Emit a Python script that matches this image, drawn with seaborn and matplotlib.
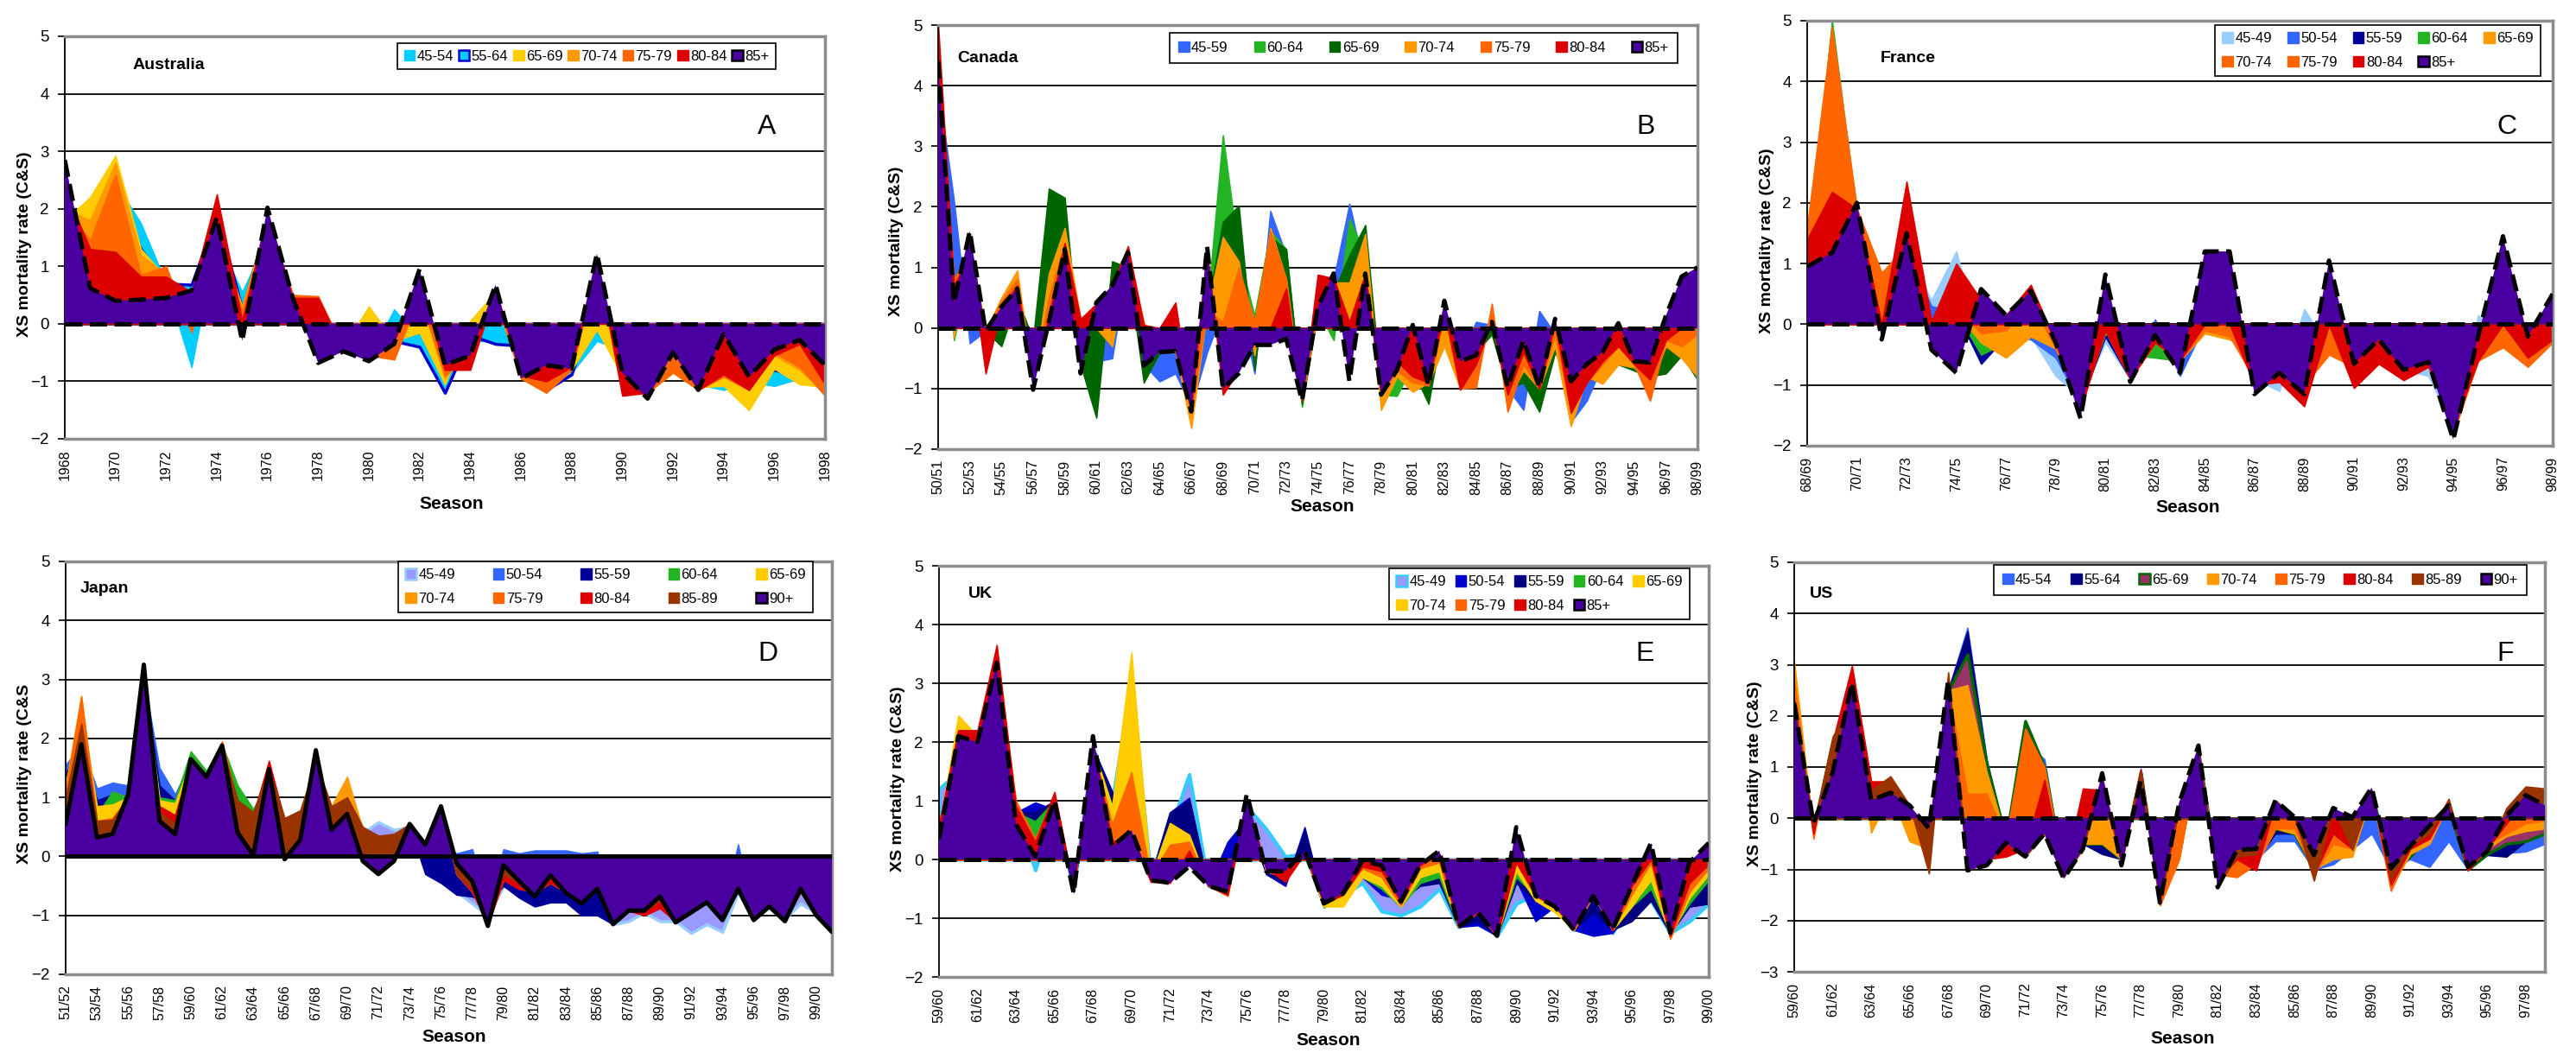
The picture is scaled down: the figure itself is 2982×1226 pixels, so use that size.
import matplotlib
matplotlib.use("Agg")
import matplotlib.pyplot as plt
from matplotlib.patches import Patch
import seaborn as sns

sns.set_theme(style="white")
plt.rcParams["font.family"] = ["Liberation Sans", "DejaVu Sans"]
plt.rcParams["text.color"] = "black"
plt.rcParams["axes.labelcolor"] = "black"
plt.rcParams["xtick.color"] = "black"
plt.rcParams["ytick.color"] = "black"

W, H = 2982, 1226


def season_labels(start, count):
    out = []
    for k in range(count):
        out.append("%02d/%02d" % ((start + k) % 100, (start + k + 1) % 100))
    return out


# ---------------- data ----------------
aus_seasons = [str(y) for y in range(1968, 1999)]
can_seasons = season_labels(50, 49)
fra_seasons = season_labels(68, 31)
jpn_seasons = season_labels(51, 50)
uk_seasons = season_labels(59, 41)
us_seasons = season_labels(59, 40)

# Australia
aus_45 = [1.5, 1.9, 2.45, 1.75, 0.7, -0.75, 1.5, 0.55, 1.5, 0.3,
          -0.5, -0.4, -0.6, 0.25, -0.3, -1.0, -0.3, -0.3, -0.38, -1.1,
          -0.85, -0.3, -0.45, -1.1, -0.6, -1.05, -1.15, -1.0, -1.08, -0.95,
          -0.95]
aus_55 = [1.6, 2.15, 2.2, 1.3, 0.7, 0.68, 1.9, 0.25, 1.8, 0.4,
          -0.5, -0.45, -0.6, -0.3, -0.4, -1.2, -0.2, -0.35, -0.38, -1.15,
          -0.88, 0.5, -0.6, -1.1, -0.6, -1.1, -0.9, -1.0, -0.8, -0.9,
          -0.9]
aus_65 = [1.8, 2.2, 2.92, 1.3, 0.8, 0.0, 1.5, 0.3, 1.8, 0.4,
          0.3, -0.4, 0.3, -0.3, -0.15, -1.05, 0.05, 0.55, -0.9, -1.1,
          -0.8, -0.1, -0.9, -1.2, -0.7, -1.1, -1.08, -1.5, -0.78, -1.05,
          -1.1]
aus_70 = [2.0, 1.8, 2.8, 1.2, 0.85, 0.0, 1.6, 0.3, 1.8, 0.5,
          0.45, -0.45, -0.5, -0.5, 0.5, -0.95, -0.4, 0.4, -0.9, -1.1,
          -0.8, 0.9, -1.0, -1.2, -0.8, -1.1, -0.9, -1.1, -0.55, -0.8,
          -1.2]
aus_75 = [2.0, 1.45, 2.6, 0.85, 1.0, -0.15, 1.6, 0.2, 1.8, 0.5,
          0.48, -0.45, -0.55, -0.62, 0.5, -0.9, -0.5, 0.5, -0.95, -1.2,
          -0.8, 1.0, -1.1, -1.2, -0.85, -1.15, -0.92, -1.15, -0.5, -0.75,
          -1.25]
aus_80 = [2.35, 1.3, 1.25, 0.82, 0.82, 0.55, 2.25, 0.05, 1.9, 0.45,
          0.45, -0.45, -0.6, -0.3, 0.8, -0.8, -0.8, 0.6, -0.9, -1.0,
          -0.75, 1.1, -1.25, -1.2, -0.45, -1.15, -0.88, -1.15, -0.55, -0.35,
          -1.05]
aus_85 = [2.85, 0.62, 0.4, 0.42, 0.45, 0.58, 1.85, -0.3, 2.02, 0.45,
          -0.68, -0.48, -0.65, -0.35, 0.95, -0.72, -0.55, 0.68, -0.95, -0.72,
          -0.78, 1.22, -0.85, -1.3, -0.5, -1.15, -0.18, -0.92, -0.45, -0.28,
          -0.72]

# Canada
can_45 = [4.0, 2.1, -0.25, -0.05, 0.3, 0.6, -0.9, 0.1, 1.2, -0.7,
          -0.55, -0.5, 1.1, -0.6, -0.88, -0.75, -1.3, -0.4, 0.3, 0.5,
          -0.75, 1.93, 1.2, -1.1, 0.3, 0.8, 2.05, 0.9, -1.0, -0.9,
          0.08, -0.9, 0.3, -0.5, 0.1, 0.05, -1.0, -1.35, 0.28, -0.1,
          -1.55, -1.2, -0.6, -0.2, -0.7, -0.8, -0.6, -0.3, -0.5]
can_60 = [3.5, -0.2, 1.0, -0.05, 0.3, 0.5, -0.8, 0.1, 1.2, 0.15,
          0.1, -0.3, 1.1, -0.5, -0.4, -0.4, -1.3, 0.3, 3.18, 1.2,
          0.2, 1.6, 1.3, -1.3, 0.3, -0.2, 1.8, 1.2, -1.1, -1.12,
          -0.6, -0.9, 0.2, -0.5, -0.4, -0.1, -1.0, -0.9, -1.0, -0.3,
          -1.0, -0.8, -0.6, -0.6, -0.7, -0.8, -0.7, -0.2, -0.85]
can_65 = [3.5, 0.3, 1.0, -0.05, -0.3, 0.5, -0.2, 2.3, 2.15, -0.6,
          -1.48, 1.1, 1.0, -0.9, -0.4, -0.4, -1.2, 0.3, 1.75, 2.02,
          -0.7, 1.5, 1.3, -1.25, 0.3, 0.6, 1.2, 1.7, -1.0, -0.7,
          -0.7, -1.25, 0.2, -0.5, -0.4, -0.1, -1.0, -0.9, -1.38, -0.4,
          -0.9, -0.8, -0.6, -0.6, -0.7, -0.8, -0.75, -0.45, -0.85]
can_70 = [4.0, -0.15, 1.4, -0.05, 0.5, 0.95, -0.9, 0.9, 1.65, 0.15,
          0.0, -0.3, 1.2, 0.1, -0.4, -0.38, -1.65, 0.3, 1.5, 1.1,
          -0.45, 1.65, 0.8, -1.2, 0.3, 0.75, 0.75, 1.55, -1.35, -0.8,
          -1.05, -0.9, -0.3, -1.0, -0.4, 0.2, -1.2, -0.7, -1.0, -0.3,
          -1.62, -0.8, -0.92, -0.6, -0.65, -0.95, -0.3, -0.5, -0.8]
can_75 = [4.5, 0.8, 1.3, -0.05, 0.45, 0.8, -0.9, 0.5, 1.4, 0.1,
          0.0, 0.6, 1.2, 0.05, -0.4, -0.38, -1.4, 0.3, 0.1, 1.0,
          0.1, 1.6, 0.8, -1.2, 0.3, 0.6, -0.2, 0.9, -1.1, -0.7,
          -0.9, -0.95, 0.2, -1.0, -0.98, 0.4, -1.38, -0.6, -1.0, -0.1,
          -1.4, -0.9, -0.6, -0.3, -0.6, -1.2, -0.2, -0.3, -0.1]
can_80 = [5.0, 0.7, 1.2, -0.75, 0.35, 0.7, -0.9, 0.2, 1.4, 0.15,
          0.4, 0.7, 1.35, 0.05, 0.0, 0.42, -1.3, 1.3, -1.1, -0.7,
          0.0, 0.0, 0.65, -1.2, 0.88, 0.82, 0.1, 0.9, -1.1, -0.55,
          -0.8, -0.9, 0.3, -1.02, -0.6, 0.1, -1.1, -0.4, -1.0, 0.1,
          -1.4, -0.9, -0.55, -0.3, -0.6, -0.85, -0.2, 0.0, 0.0]
can_85 = [4.4, 0.42, 1.6, -0.05, 0.35, 0.65, -1.02, 0.1, 1.3, -0.75,
          0.42, 0.7, 1.25, -0.62, -0.4, -0.38, -1.38, 1.35, -1.0, -0.75,
          -0.28, -0.28, -0.18, -1.2, 0.35, 0.9, -0.88, 0.9, -1.1, -0.7,
          0.05, -0.95, 0.45, -0.55, -0.45, 0.1, -0.98, -0.2, -0.98, 0.15,
          -0.88, -0.6, -0.4, 0.08, -0.55, -0.57, 0.2, 0.85, 1.0]

# France
fra_45 = [0.8, 4.5, 1.8, 0.2, 1.2, 0.4, 1.2, -0.3, -0.2, -0.2,
          -0.85, -1.2, -0.3, -0.9, -0.3, -0.6, 0.3, 0.1, -0.9, -1.1,
          0.25, -0.4, -0.6, -0.4, -0.75, -0.85, -1.7, 0.15, -0.3, -0.4,
          -0.3]
fra_50 = [0.9, 4.5, 1.8, 0.3, 1.2, 0.3, 0.2, -0.3, -0.2, -0.25,
          -0.55, -1.3, -0.2, -0.9, 0.08, -0.85, 0.0, 0.0, -0.9, -0.9,
          -1.0, -0.3, -0.6, -0.4, -0.7, -0.6, -1.7, -0.3, -0.3, -0.4,
          -0.3]
fra_55 = [0.9, 4.5, 1.8, 0.3, 1.2, -0.2, 0.2, -0.65, -0.2, -0.1,
          -0.4, -1.3, -0.2, -0.9, -0.3, -0.6, 0.0, 0.0, -0.9, -0.9,
          -1.0, -0.3, -0.6, -0.4, -0.7, -0.6, -1.7, -0.3, -0.3, -0.4,
          -0.3]
fra_60 = [1.0, 5.0, 1.8, 0.5, 1.2, -0.2, 0.2, -0.5, -0.3, -0.1,
          -0.4, -1.3, -0.15, -0.5, -0.55, -0.6, 0.0, 0.0, -0.9, -0.9,
          -1.0, -0.3, -0.6, -0.4, -0.7, -0.6, -1.7, -0.3, -0.3, -0.4,
          -0.3]
fra_65 = [1.4, 4.7, 1.8, 0.7, 1.2, -0.2, 0.2, -0.3, -0.55, -0.2,
          -0.4, -1.3, -0.1, -0.9, -0.3, -0.6, -0.15, -0.25, -0.45, -0.9,
          -1.0, -0.3, -0.7, -0.4, -0.7, -0.6, -1.8, -0.5, -0.3, -0.5,
          -0.3]
fra_70 = [1.6, 4.9, 1.9, 0.8, 1.2, -0.2, 0.3, -0.15, -0.1, 0.4,
          -0.4, -1.3, -0.1, -0.9, -0.3, -0.6, -0.1, -0.2, -0.9, -0.9,
          -1.0, -0.5, -0.7, -0.4, -0.7, -0.6, -1.8, -0.5, -0.3, -0.6,
          -0.3]
fra_75 = [1.5, 4.8, 1.9, 0.85, 1.3, -0.2, 0.3, 0.2, -0.1, 0.4,
          -0.4, -1.3, -0.1, -0.9, -0.3, -0.6, -0.1, -0.15, -0.9, -0.9,
          -1.0, -0.35, -0.7, -0.4, -0.7, -0.6, -1.8, -0.6, -0.38, -0.7,
          -0.3]
fra_80 = [1.4, 2.18, 1.9, 0.0, 2.35, 0.05, 1.0, 0.4, 0.15, 0.65,
          -0.3, -1.4, -0.1, -0.9, -0.3, -0.6, 0.0, 0.0, -1.0, -0.95,
          -1.35, 0.0, -1.05, -0.65, -0.92, -0.7, -1.7, -0.6, 0.0, -0.55,
          -0.25]
fra_85 = [0.95, 1.18, 2.0, -0.25, 1.5, -0.42, -0.8, 0.58, 0.15, 0.55,
          -0.3, -1.55, 0.82, -0.95, -0.18, -0.8, 1.2, 1.2, -1.15, -0.8,
          -1.15, 1.05, -0.65, -0.25, -0.75, -0.62, -1.9, -0.2, 1.45, -0.2,
          0.5]

# Japan
jpn_45 = [1.5, 1.9, 1.0, 1.1, 1.1, 3.0, 1.3, 1.0, 1.6, 1.3,
          1.85, 0.9, 0.7, 1.3, 0.5, 0.6, 1.4, 0.8, 0.9, 0.4,
          0.58, 0.45, 0.5, 0.1, 0.1, -0.6, -0.8, -1.0, -0.5, -0.6,
          -0.8, -0.7, -0.75, -0.9, -0.9, -1.15, -1.1, -0.95, -1.1, -1.1,
          -1.3, -1.15, -1.28, -0.6, -1.05, -0.85, -1.05, -0.8, -0.95, -1.25]
jpn_50 = [1.55, 1.9, 1.15, 1.25, 1.2, 3.0, 1.5, 1.05, 1.6, 1.3,
          1.85, 0.9, 0.7, 1.3, 0.5, 0.6, 1.4, 0.8, 0.9, 0.4,
          0.3, 0.3, 0.5, 0.1, 0.2, 0.05, 0.12, -0.8, 0.12, 0.05,
          0.1, 0.1, 0.1, 0.05, 0.08, -1.0, -0.9, -0.95, -0.85, -1.1,
          -0.9, -0.8, -1.0, 0.2, -1.0, -0.85, -1.05, -0.6, -0.95, -1.25]
jpn_55 = [1.4, 1.9, 0.95, 1.05, 1.0, 3.0, 1.2, 0.95, 1.6, 1.3,
          1.85, 0.9, 0.7, 1.3, 0.5, 0.6, 1.4, 0.8, 0.9, 0.4,
          0.3, 0.3, 0.5, -0.3, -0.45, -0.65, -0.68, -0.8, -0.5, -0.7,
          -0.85, -0.78, -0.78, -1.0, -1.0, -1.15, -0.92, -0.95, -0.85, -1.1,
          -0.9, -0.8, -1.0, -0.6, -1.0, -0.85, -1.05, -0.6, -0.95, -1.25]
jpn_60 = [1.3, 2.0, 0.7, 1.1, 1.0, 3.0, 1.0, 0.95, 1.78, 1.45,
          1.9, 1.2, 0.8, 1.3, 0.5, 0.6, 1.4, 0.8, 0.9, 0.4,
          0.3, 0.3, 0.5, 0.2, 0.8, -0.3, -0.6, -1.1, -0.4, -0.5,
          -0.6, -0.45, -0.6, -0.7, -0.55, -1.1, -0.9, -0.95, -0.75, -1.1,
          -0.9, -0.78, -1.0, -0.55, -1.0, -0.85, -1.05, -0.6, -0.95, -1.25]
jpn_65 = [1.2, 2.5, 0.85, 0.88, 1.0, 3.0, 0.95, 0.9, 1.6, 1.3,
          1.85, 0.9, 0.7, 1.4, 0.6, 0.7, 1.4, 0.8, 1.0, 0.4,
          0.3, 0.3, 0.5, 0.2, 0.8, -0.3, -0.6, -1.1, -0.4, -0.5,
          -0.6, -0.45, -0.6, -0.7, -0.55, -1.1, -0.9, -0.95, -0.75, -1.1,
          -0.9, -0.78, -1.0, -0.55, -1.0, -0.85, -1.05, -0.6, -0.95, -1.25]
jpn_70 = [1.2, 2.72, 0.6, 0.65, 1.0, 3.0, 0.8, 0.6, 1.6, 1.3,
          1.9, 0.9, 0.7, 1.5, 0.6, 0.75, 1.5, 0.85, 1.35, 0.45,
          0.3, 0.3, 0.5, 0.2, 0.8, -0.3, -0.6, -1.1, -0.4, -0.5,
          -0.6, -0.45, -0.6, -0.7, -0.55, -1.1, -0.9, -0.95, -0.75, -1.1,
          -0.9, -0.78, -1.0, -0.55, -1.0, -0.85, -1.05, -0.6, -0.95, -1.25]
jpn_75 = [1.1, 2.7, 0.6, 0.65, 1.0, 3.0, 0.75, 0.55, 1.6, 1.3,
          1.95, 0.9, 0.7, 1.5, 0.6, 0.75, 1.5, 0.8, 1.0, 0.4,
          0.3, 0.3, 0.5, 0.2, 0.8, -0.3, -0.6, -1.15, -0.4, -0.55,
          -0.6, -0.45, -0.6, -0.7, -0.55, -1.1, -0.92, -0.95, -0.75, -1.1,
          -0.9, -0.78, -1.0, -0.55, -1.0, -0.85, -1.05, -0.6, -0.95, -1.25]
jpn_80 = [0.9, 2.2, 0.55, 0.6, 1.0, 3.0, 0.85, 0.7, 1.6, 1.3,
          1.85, 0.9, 0.7, 1.62, 0.6, 0.75, 1.5, 0.8, 0.9, 0.4,
          0.3, 0.3, 0.5, 0.2, 0.8, -0.3, -0.6, -1.15, -0.4, -0.55,
          -0.6, -0.45, -0.6, -0.7, -0.55, -1.1, -0.92, -1.0, -0.88, -1.1,
          -0.9, -0.78, -1.0, -0.55, -1.0, -0.85, -1.05, -0.6, -1.0, -1.25]
jpn_85 = [1.0, 2.25, 0.6, 0.62, 1.0, 3.0, 0.75, 0.55, 1.6, 1.35,
          1.85, 0.95, 0.75, 1.5, 0.65, 0.78, 1.6, 0.85, 1.0, 0.5,
          0.35, 0.38, 0.55, 0.2, 0.85, -0.3, -0.55, -1.18, -0.3, -0.45,
          -0.68, -0.35, -0.62, -0.75, -0.55, -1.15, -0.92, -0.92, -0.75, -1.1,
          -0.9, -0.78, -1.05, -0.55, -1.05, -0.85, -1.1, -0.55, -1.0, -1.28]
jpn_90 = [0.55, 1.9, 0.32, 0.38, 1.05, 3.25, 0.6, 0.38, 1.65, 1.35,
          1.88, 0.4, 0.02, 1.48, -0.05, 0.28, 1.8, 0.45, 0.72, -0.08,
          -0.3, -0.08, 0.55, 0.2, 0.85, -0.12, -0.42, -1.18, -0.15, -0.42,
          -0.68, -0.32, -0.62, -0.8, -0.55, -1.15, -0.92, -0.92, -0.68, -1.12,
          -0.95, -0.78, -1.08, -0.55, -1.08, -0.85, -1.1, -0.55, -1.0, -1.28]

# UK
uk_45 = [1.2, 1.5, 2.0, 3.3, 0.8, -0.18, 0.9, -0.5, 1.9, 1.0,
         3.0, -0.3, 0.5, 1.45, -0.45, -0.5, 0.9, 0.52, 0.05, 0.1,
         -0.75, -0.6, -0.4, -0.88, -0.95, -0.8, -0.5, -1.15, -1.0, -1.3,
         -0.75, -0.6, -0.8, -1.2, -0.8, -1.25, -0.7, -0.7, -1.25, -1.05,
         -0.75]
uk_50 = [0.5, 2.0, 2.0, 3.3, 0.8, 0.97, 0.85, -0.55, 1.9, 1.15,
         0.5, -0.3, 0.8, 1.05, -0.45, 0.3, 0.7, -0.25, -0.45, 0.55,
         -0.75, -0.6, -0.3, -0.6, -0.68, -0.42, -0.35, -1.15, -1.12, -1.3,
         -0.35, -1.05, -0.8, -1.2, -1.3, -1.25, -0.8, -0.7, -1.25, -0.8,
         -0.75]
uk_55 = [0.5, 2.0, 2.0, 3.3, 0.8, 0.8, 1.0, -0.55, 1.9, 1.15,
         0.5, -0.3, 0.8, 1.0, -0.45, -0.55, 1.0, -0.25, -0.4, 0.5,
         -0.75, -0.6, -0.3, -0.5, -0.7, -0.45, -0.4, -1.15, -1.05, -1.3,
         -0.4, -0.7, -0.8, -1.2, -0.9, -1.2, -1.05, -0.7, -1.25, -0.8,
         -0.75]
uk_60 = [0.5, 2.0, 2.0, 3.3, 0.8, 0.65, 1.0, -0.5, 1.9, 0.9,
         0.5, -0.3, 0.2, 0.3, -0.45, -0.55, 1.0, -0.2, -0.3, 0.1,
         -0.82, -0.6, -0.3, -0.5, -0.8, -0.4, -0.3, -1.15, -0.9, -1.3,
         -0.3, -0.62, -0.8, -1.2, -0.6, -1.2, -0.8, -0.5, -1.25, -0.75,
         -0.35]
uk_65 = [0.5, 2.3, 2.1, 3.3, 0.9, 0.3, 1.0, -0.5, 1.9, 0.7,
         2.5, -0.3, 0.5, 0.35, -0.45, -0.6, 1.0, -0.2, -0.3, 0.1,
         -0.8, -0.8, -0.3, -0.45, -0.8, -0.3, -0.2, -1.15, -0.9, -1.3,
         -0.2, -0.7, -0.9, -1.2, -0.6, -1.2, -0.78, -0.35, -1.3, -0.65,
         -0.25]
uk_70 = [0.5, 2.45, 2.1, 3.3, 0.9, 0.3, 1.0, -0.5, 1.9, 0.9,
         3.52, -0.3, 0.62, 0.42, -0.45, -0.6, 1.0, -0.2, -0.3, 0.1,
         -0.78, -0.75, -0.2, -0.4, -0.8, -0.2, -0.1, -1.15, -0.9, -1.3,
         -0.1, -0.65, -0.85, -1.2, -0.6, -1.2, -0.8, -0.3, -1.3, -0.65,
         -0.25]
uk_75 = [0.5, 2.2, 2.1, 3.4, 1.0, 0.35, 1.1, -0.5, 1.9, 0.6,
         1.48, -0.3, 0.25, 0.3, -0.45, -0.62, 1.0, -0.2, -0.3, 0.1,
         -0.75, -0.6, -0.15, -0.3, -0.78, -0.15, -0.05, -1.15, -0.9, -1.3,
         -0.05, -0.62, -0.8, -1.2, -0.6, -1.2, -0.6, -0.05, -1.35, -0.55,
         -0.15]
uk_80 = [0.6, 2.2, 2.2, 3.65, 0.9, 0.3, 1.15, -0.5, 2.0, 0.3,
         0.4, -0.38, -0.4, 0.15, -0.45, -0.6, 1.0, -0.15, -0.38, 0.1,
         -0.75, -0.6, -0.12, -0.2, -0.72, -0.1, 0.1, -1.15, -0.9, -1.3,
         -0.05, -0.62, -0.8, -1.15, -0.55, -1.2, -0.45, 0.0, -1.3, -0.4,
         -0.08]
uk_85 = [0.35, 2.1, 2.0, 3.35, 0.6, 0.05, 1.0, -0.58, 2.1, 0.22,
         0.5, -0.35, -0.4, -0.12, -0.45, -0.55, 1.12, -0.2, -0.2, 0.15,
         -0.75, -0.58, -0.02, -0.1, -0.72, -0.1, 0.15, -1.15, -0.9, -1.3,
         0.55, -0.62, -0.8, -1.2, -0.62, -1.2, -0.45, 0.28, -1.25, -0.05,
         0.28]

# US
us_45 = [2.0, -0.2, 1.5, 2.5, 0.5, 0.5, 0.2, -0.6, 2.5, 3.72,
         1.15, -0.4, 1.5, 1.15, -1.1, -0.5, -0.6, -0.8, 0.97, -1.6,
         -0.7, 1.3, -1.1, -0.9, -0.8, -0.45, -0.45, -1.0, -0.9, -0.6,
         -0.3, -1.0, -0.8, -0.95, -0.45, -1.0, -0.7, -0.68, -0.65, -0.5]
us_55 = [2.0, -0.2, 1.5, 2.5, 0.5, 0.5, 0.2, -0.6, 2.5, 3.65,
         1.1, -0.4, 1.5, 1.0, -1.1, -0.5, -0.7, -0.8, 0.9, -1.6,
         -0.7, 1.3, -1.1, -0.9, -0.8, -0.3, -0.3, -1.0, -0.7, -0.6,
         0.5, -1.0, -0.75, -0.35, 0.2, -1.0, -0.72, -0.75, -0.45, -0.3]
us_65 = [2.0, -0.2, 1.5, 2.5, 0.5, 0.5, 0.2, -0.6, 2.5, 3.2,
         1.05, -0.4, 1.9, 1.0, -1.1, -0.5, -0.5, -0.8, 0.9, -1.6,
         -0.7, 1.3, -1.1, -1.0, -0.8, -0.2, -0.3, -1.0, -0.7, -0.6,
         0.5, -1.0, -0.75, -0.3, 0.2, -1.0, -0.7, -0.5, -0.45, -0.3]
us_70 = [3.05, -0.3, 1.5, 2.5, -0.28, 0.5, -0.45, -0.6, 2.5, 2.6,
         0.9, -0.4, 1.6, 1.0, -1.1, -0.5, -0.5, -0.8, 0.9, -1.7,
         -0.8, 1.3, -1.1, -1.1, -0.9, -0.2, -0.3, -1.0, -0.8, -0.75,
         0.5, -1.35, -0.7, -0.5, 0.3, -1.0, -0.6, -0.35, -0.25, -0.2]
us_75 = [2.7, -0.4, 1.5, 2.5, 0.6, 0.7, 0.2, -0.6, 2.5, 0.48,
         0.48, -0.4, 1.75, 1.0, -1.1, -0.5, 0.7, -0.8, 0.9, -1.7,
         -0.8, 1.3, -1.1, -1.15, -0.9, -0.2, -0.2, -1.1, -0.5, -0.6,
         0.5, -1.42, -0.6, -0.4, 0.3, -1.0, -0.5, -0.3, -0.1, -0.05]
us_80 = [2.0, -0.3, 1.5, 2.98, 0.72, 0.72, 0.2, -0.75, 2.5, -0.9,
         -0.8, -0.75, -0.6, 0.75, -1.1, 0.58, 0.55, -0.8, 0.95, -1.6,
         0.2, 1.3, -1.2, -0.8, -1.02, 0.3, 0.0, -1.1, -0.3, -0.6,
         0.5, -1.3, -0.6, -0.4, 0.3, -1.02, -0.6, -0.1, 0.3, 0.3]
us_85 = [2.3, -0.15, 1.6, 2.2, 0.55, 0.82, 0.25, -1.08, 2.85, -1.0,
         -0.9, -0.48, -0.75, -0.3, -1.15, -0.6, 0.8, -0.9, 0.9, -1.65,
         0.3, 1.35, -1.3, -0.75, -0.7, 0.35, 0.02, -1.22, 0.2, -0.62,
         0.55, -1.2, -0.55, -0.3, 0.38, -0.95, -0.65, 0.2, 0.62, 0.58]
us_90 = [2.25, -0.1, 0.9, 2.65, 0.35, 0.5, 0.25, -0.2, 2.7, -1.02,
         -0.92, -0.48, -0.75, -0.3, -1.18, -0.6, 0.88, -0.92, 0.72, -1.65,
         0.3, 1.42, -1.35, -0.62, -0.6, 0.35, 0.02, -0.72, 0.2, 0.02,
         0.6, -0.98, -0.55, -0.15, 0.25, -0.95, -0.65, 0.05, 0.45, 0.25]

# ---------------- colours ----------------
PURPLE = "#4A00A0"
CYAN = "#00CCFF"
BLUE_D = "#0000CC"
GOLD = "#FFCC00"
ORANGE = "#FF9900"
DORANGE = "#FF6600"
RED = "#DD0000"
BLUE = "#3366FF"
GREEN = "#22B422"
DGREEN = "#006600"
LBLUE = "#99CCFF"
NAVY = "#000099"
BROWN = "#993300"
LAVENDER = "#9999FF"
MAUVE = "#993366"

# (label, values, fill, edge, edge width)
panels = [
    dict(box=(75, 42, 955, 508), seasons=aus_seasons, ymin=-2, solid=False,
         series=[("45-54", aus_45, CYAN, CYAN, 1.2), ("55-64", aus_55, CYAN, BLUE_D, 2.5),
                 ("65-69", aus_65, GOLD, GOLD, 1.2), ("70-74", aus_70, ORANGE, ORANGE, 1.2),
                 ("75-79", aus_75, DORANGE, DORANGE, 1.2), ("80-84", aus_80, RED, RED, 1.2),
                 ("85+", aus_85, PURPLE, "black", 2.5)],
         ylabel="XS mortality rate (C&S)", ylabel_xy=(29, 283), xlabel_xy=(523, 583),
         title="Australia", title_xy=(154, 75), letter="A", letter_xy=(888, 147),
         legend_box=(460, 50, 898, 81), ncol=7, borderpad=0.45),
    dict(box=(1086, 29, 1965, 520), seasons=can_seasons, ymin=-2, solid=False,
         series=[("45-59", can_45, BLUE, BLUE, 1.2), ("60-64", can_60, GREEN, GREEN, 1.2),
                 ("65-69", can_65, DGREEN, DGREEN, 1.2), ("70-74", can_70, ORANGE, ORANGE, 1.2),
                 ("75-79", can_75, DORANGE, DORANGE, 1.2), ("80-84", can_80, RED, RED, 1.2),
                 ("85+", can_85, PURPLE, "black", 2.5)],
         ylabel="XS mortality (C&S)", ylabel_xy=(1038, 279), xlabel_xy=(1531, 586),
         title="Canada", title_xy=(1108, 68), letter="B", letter_xy=(1905, 147),
         legend_box=(1354, 38, 1942, 77), ncol=7, borderpad=0.6),
    dict(box=(2092, 24, 2955, 516), seasons=fra_seasons, ymin=-2, solid=False,
         series=[("45-49", fra_45, LBLUE, LBLUE, 1.2), ("50-54", fra_50, BLUE, BLUE, 1.2),
                 ("55-59", fra_55, NAVY, NAVY, 1.2), ("60-64", fra_60, GREEN, GREEN, 1.2),
                 ("65-69", fra_65, ORANGE, ORANGE, 1.2), ("70-74", fra_70, DORANGE, DORANGE, 1.2),
                 ("75-79", fra_75, DORANGE, DORANGE, 1.2), ("80-84", fra_80, RED, RED, 1.2),
                 ("85+", fra_85, PURPLE, "black", 2.5)],
         ylabel="XS mortality rate (C&S)", ylabel_xy=(2045, 279), xlabel_xy=(2533, 588),
         title="France", title_xy=(2177, 67), letter="C", letter_xy=(2902, 147),
         legend_box=(2564, 29, 2941, 91), ncol=5, borderpad=0.5),
    dict(box=(76, 650, 963, 1128), seasons=jpn_seasons, ymin=-2, solid=True,
         series=[("45-49", jpn_45, LAVENDER, LBLUE, 2.5), ("50-54", jpn_50, BLUE, BLUE, 1.2),
                 ("55-59", jpn_55, NAVY, NAVY, 1.2), ("60-64", jpn_60, GREEN, GREEN, 1.2),
                 ("65-69", jpn_65, GOLD, GOLD, 1.2), ("70-74", jpn_70, ORANGE, ORANGE, 1.2),
                 ("75-79", jpn_75, DORANGE, DORANGE, 1.2), ("80-84", jpn_80, RED, RED, 1.2),
                 ("85-89", jpn_85, BROWN, BROWN, 1.2), ("90+", jpn_90, PURPLE, "black", 2.5)],
         ylabel="XS mortality rate (C&S", ylabel_xy=(29, 896), xlabel_xy=(526, 1201),
         title="Japan", title_xy=(93, 681), letter="D", letter_xy=(889, 757),
         legend_box=(461, 650, 941, 714), ncol=5, borderpad=0.5),
    dict(box=(1087, 655, 1978, 1131), seasons=uk_seasons, ymin=-2, solid=False,
         series=[("45-49", uk_45, LAVENDER, "#33CCFF", 3.0), ("50-54", uk_50, BLUE_D, BLUE_D, 1.2),
                 ("55-59", uk_55, "#000080", "#000080", 1.2), ("60-64", uk_60, GREEN, GREEN, 1.2),
                 ("65-69", uk_65, GOLD, GOLD, 1.2), ("70-74", uk_70, GOLD, GOLD, 1.2),
                 ("75-79", uk_75, DORANGE, DORANGE, 1.2), ("80-84", uk_80, RED, RED, 1.2),
                 ("85+", uk_85, PURPLE, "black", 2.5)],
         ylabel="XS mortality rate (C&S)", ylabel_xy=(1039, 902), xlabel_xy=(1538, 1205),
         title="UK", title_xy=(1121, 688), letter="E", letter_xy=(1904, 757),
         legend_box=(1608, 658, 1956, 722), ncol=5, borderpad=0.5),
    dict(box=(2077, 651, 2946, 1125), seasons=us_seasons, ymin=-3, solid=False,
         series=[("45-54", us_45, BLUE, BLUE, 1.2), ("55-64", us_55, "#000080", "#000080", 1.2),
                 ("65-69", us_65, MAUVE, DGREEN, 2.5), ("70-74", us_70, ORANGE, ORANGE, 1.2),
                 ("75-79", us_75, DORANGE, DORANGE, 1.2), ("80-84", us_80, RED, RED, 1.2),
                 ("85-89", us_85, BROWN, BROWN, 1.2), ("90+", us_90, PURPLE, "black", 2.5)],
         ylabel="XS mortality rate (C&S)", ylabel_xy=(2032, 896), xlabel_xy=(2527, 1203),
         title="US", title_xy=(2095, 687), letter="F", letter_xy=(2900, 757),
         legend_box=(2308, 654, 2925, 697), ncol=8, borderpad=0.6),
]


def fx(x):
    return x / W


def fy(y):
    return 1 - y / H


fig = plt.figure(figsize=(W / 100, H / 100), dpi=100)

for p in panels:
    l, t, r, b = p["box"]
    ax = fig.add_axes([fx(l), fy(b), (r - l) / W, (b - t) / H])
    seasons = p["seasons"]
    n = len(seasons)
    x = list(range(n))

    for label, vals, face, edge, lw in p["series"][:-1]:
        ax.fill_between(x, 0, vals, facecolor=face, edgecolor=edge, linewidth=lw, zorder=2)
    label, vals, face, edge, lw = p["series"][-1]
    ax.fill_between(x, 0, vals, facecolor=face, edgecolor="none", zorder=3)
    ls = "-" if p["solid"] else (0, (4, 1.7))
    sns.lineplot(x=x, y=vals, ax=ax, color="black", linewidth=3.6, linestyle=ls,
                 zorder=4, legend=False)
    ax.axhline(0, color="black", linewidth=3.6, linestyle=ls, zorder=4)

    ax.set_xlim(0, n - 1)
    ax.set_ylim(p["ymin"], 5)
    ax.set_yticks(range(p["ymin"], 6))
    ticks = list(range(0, n, 2))
    ax.set_xticks(ticks)
    ax.set_xticklabels([seasons[i] for i in ticks], rotation=90, fontsize=11.5)
    ax.tick_params(axis="x", length=0, pad=9)
    ax.tick_params(axis="y", left=True, length=6, width=1.2, pad=7, labelsize=13.5,
                   direction="out")
    ax.yaxis.grid(True, color="black", linewidth=1.3)
    ax.xaxis.grid(False)
    ax.set_axisbelow(True)
    for side in ["top", "right", "bottom"]:
        ax.spines[side].set_color("#8c8c8c")
        ax.spines[side].set_linewidth(2.5)
    ax.spines["left"].set_color("black")
    ax.spines["left"].set_linewidth(1.3)

    ax.set_ylabel(p["ylabel"], fontsize=14, fontweight="bold")
    ax.yaxis.set_label_coords(fx(p["ylabel_xy"][0]), fy(p["ylabel_xy"][1]),
                              transform=fig.transFigure)
    ax.yaxis.label.set_va("center")
    ax.set_xlabel("Season", fontsize=15, fontweight="bold")
    ax.xaxis.set_label_coords(fx(p["xlabel_xy"][0]), fy(p["xlabel_xy"][1]),
                              transform=fig.transFigure)
    ax.xaxis.label.set_va("center")

    fig.text(fx(p["title_xy"][0]), fy(p["title_xy"][1]), p["title"], fontsize=14,
             fontweight="bold", ha="left", va="center")
    fig.text(fx(p["letter_xy"][0]), fy(p["letter_xy"][1]), p["letter"], fontsize=23,
             ha="center", va="center")

    # legend, filled row by row like the original
    handles = [Patch(facecolor=s[2], edgecolor=s[3], linewidth=1.8 if s[4] > 2 else 1.0)
               for s in p["series"]]
    labels = [s[0] for s in p["series"]]
    ncol = p["ncol"]
    nrow = -(-len(labels) // ncol)
    order = [r_ * ncol + c for c in range(ncol) for r_ in range(nrow)
             if r_ * ncol + c < len(labels)]
    ll, lt, lr, lb = p["legend_box"]
    leg = ax.legend([handles[i] for i in order], [labels[i] for i in order],
                    loc="upper left", bbox_to_anchor=(fx(ll), fy(lb), (lr - ll) / W, (lb - lt) / H),
                    bbox_transform=fig.transFigure, mode="expand", ncol=ncol,
                    fontsize=12, frameon=True, fancybox=False, framealpha=1,
                    borderaxespad=0, borderpad=p["borderpad"], handlelength=0.75,
                    handleheight=0.75, handletextpad=0.15, columnspacing=0.4,
                    labelspacing=0.75)
    leg.get_frame().set_edgecolor("black")
    leg.get_frame().set_linewidth(1.2)
    leg.set_zorder(6)

fig.savefig("out.png", dpi=100)
